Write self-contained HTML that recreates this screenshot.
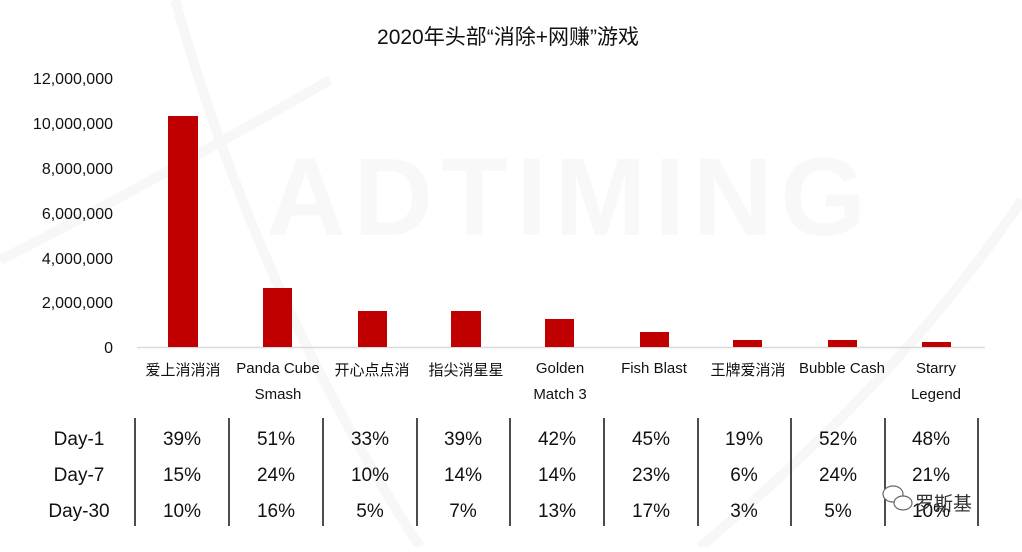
<!DOCTYPE html>
<html><head><meta charset="utf-8"><style>
body{margin:0;background:#fff;}
svg text{font-family:"Liberation Sans","Noto Sans CJK SC",sans-serif;fill:#111;}
</style></head><body>
<svg width="1022" height="547" xmlns="http://www.w3.org/2000/svg">
<g fill="none" stroke="#f7f7f7" stroke-width="10">
<path d="M175 0 Q260 300 420 547"/>
<path d="M0 260 Q120 200 330 80"/>
<path d="M1022 200 Q900 380 700 547"/>
</g>
<text x="570" y="235" font-size="110" text-anchor="middle" style="fill:#f8f8f8;font-weight:bold" letter-spacing="8">ADTIMING</text>
<text x="508" y="44" font-size="21" text-anchor="middle">2020年头部“消除+网赚”游戏</text>
<g font-size="16" text-anchor="end">
<text x="113" y="84">12,000,000</text>
<text x="113" y="129">10,000,000</text>
<text x="113" y="174">8,000,000</text>
<text x="113" y="219">6,000,000</text>
<text x="113" y="264">4,000,000</text>
<text x="113" y="308">2,000,000</text>
<text x="113" y="353">0</text>
</g>
<line x1="137" y1="347.5" x2="985" y2="347.5" stroke="#d9d9d9" stroke-width="1.5"/>
<g fill="#c00000">
<rect x="168" y="116" width="30" height="231"/>
<rect x="263" y="288" width="29" height="59"/>
<rect x="358" y="311" width="29" height="36"/>
<rect x="451" y="311" width="30" height="36"/>
<rect x="545" y="319" width="29" height="28"/>
<rect x="640" y="332" width="29" height="15"/>
<rect x="733" y="340" width="29" height="7"/>
<rect x="828" y="340" width="29" height="7"/>
<rect x="922" y="342" width="29" height="5"/>
</g>
<g font-size="15" text-anchor="middle">
<text x="183" y="375">爱上消消消</text>
<text x="278" y="373">Panda Cube</text><text x="278" y="399">Smash</text>
<text x="372" y="375">开心点点消</text>
<text x="466" y="375">指尖消星星</text>
<text x="560" y="373">Golden</text><text x="560" y="399">Match 3</text>
<text x="654" y="373">Fish Blast</text>
<text x="748" y="375">王牌爱消消</text>
<text x="842" y="373">Bubble Cash</text>
<text x="936" y="373">Starry</text><text x="936" y="399">Legend</text>
</g>
<g stroke="#111" stroke-width="1.5">
<line x1="135" y1="418" x2="135" y2="526"/><line x1="229" y1="418" x2="229" y2="526"/>
<line x1="323" y1="418" x2="323" y2="526"/><line x1="417" y1="418" x2="417" y2="526"/>
<line x1="510" y1="418" x2="510" y2="526"/><line x1="604" y1="418" x2="604" y2="526"/>
<line x1="698" y1="418" x2="698" y2="526"/><line x1="791" y1="418" x2="791" y2="526"/>
<line x1="885" y1="418" x2="885" y2="526"/><line x1="978" y1="418" x2="978" y2="526"/>
</g>
<g font-size="19" text-anchor="middle">
<text x="79" y="445">Day-1</text><text x="79" y="481">Day-7</text><text x="79" y="517">Day-30</text>
<text x="182" y="445">39%</text><text x="276" y="445">51%</text><text x="370" y="445">33%</text><text x="463" y="445">39%</text><text x="557" y="445">42%</text><text x="651" y="445">45%</text><text x="744" y="445">19%</text><text x="838" y="445">52%</text><text x="931" y="445">48%</text>
<text x="182" y="481">15%</text><text x="276" y="481">24%</text><text x="370" y="481">10%</text><text x="463" y="481">14%</text><text x="557" y="481">14%</text><text x="651" y="481">23%</text><text x="744" y="481">6%</text><text x="838" y="481">24%</text><text x="931" y="481">21%</text>
<text x="182" y="517">10%</text><text x="276" y="517">16%</text><text x="370" y="517">5%</text><text x="463" y="517">7%</text><text x="557" y="517">13%</text><text x="651" y="517">17%</text><text x="744" y="517">3%</text><text x="838" y="517">5%</text><text x="931" y="517">10%</text>
</g>
<g fill="#fff" stroke="#666" stroke-width="1.2">
<ellipse cx="893" cy="494" rx="10" ry="8"/><ellipse cx="903" cy="503" rx="9" ry="7"/>
</g>
<text x="915" y="510" font-size="19" style="fill:#333">罗斯基</text>
</svg>
</body></html>
